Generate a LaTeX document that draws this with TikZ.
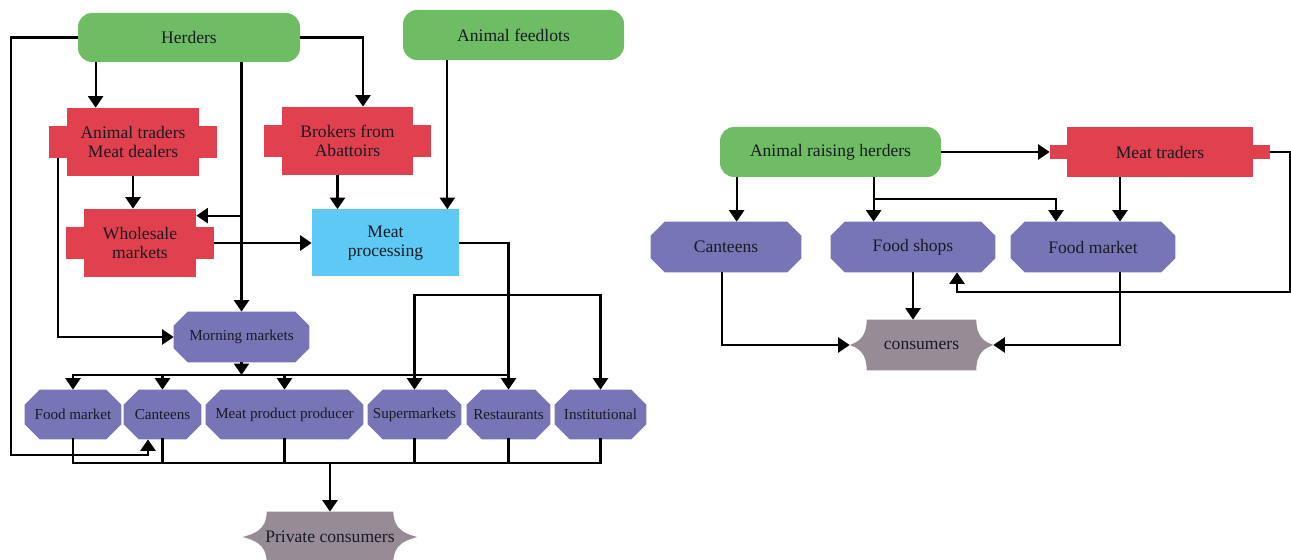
\documentclass[tikz,border=0pt]{standalone}
\usepackage{fontspec}
\setmainfont{Liberation Serif}
\usetikzlibrary{arrows.meta,calc,backgrounds}

\definecolor{herdgreen}{HTML}{6EBD64}
\definecolor{tradered}{HTML}{E1414F}
\definecolor{procblue}{HTML}{5EC9F5}
\definecolor{shoppurple}{HTML}{7875B6}
\definecolor{buyergray}{HTML}{978C95}
\definecolor{inktext}{HTML}{1A1A24}

\tikzset{
  sz/.style 2 args={minimum width=#1*0.02cm, minimum height=#2*0.02cm},
  base/.style={inner sep=0pt, align=center, text=inktext, font=\fontsize{10}{10.5}\selectfont},
  small/.style={font=\fontsize{8.6}{10}\selectfont},
  source/.style={base, fill=herdgreen, rounded corners=8pt},
  trader/.style={base, fill=tradered},
  proc/.style={base, fill=procblue},
  outlet/.style={base},
  buyer/.style={base},
  tip/.tip={Triangle[width=8.5pt,length=6.5pt]},
  link/.style={line width=1.3pt, line cap=rect},
  flow/.style={line width=1.3pt, -tip},
  flowboth/.style={line width=1.3pt, tip-tip},
}

% octagon behind an outlet node: #1 node, #2 corner cut
\newcommand\octagonfill[2]{%
  \fill[shoppurple] ($(#1.north west)+(#2,0)$) -- ($(#1.north east)+(-#2,0)$)
    -- ($(#1.north east)+(0,#2)$) -- ($(#1.south east)+(0,-#2)$)
    -- ($(#1.south east)+(-#2,0)$) -- ($(#1.south west)+(#2,0)$)
    -- ($(#1.south west)+(0,-#2)$) -- ($(#1.north west)+(0,#2)$) -- cycle;}

% side tabs of a trader node: #1 node, #2 tab width, #3 tab half height
\newcommand\tabfill[3]{%
  \fill[tradered] ($(#1.west)+(-#2,-#3)$) rectangle ($(#1.west)+(0.5,#3)$);
  \fill[tradered] ($(#1.east)+(-0.5,-#3)$) rectangle ($(#1.east)+(#2,#3)$);}

% consumer shape with pointed concave sides: #1 node, #2 point depth, #3 half height
\newcommand\cuspfill[3]{%
  \fill[buyergray]
    ($(#1.north west)+(#2,0)$) -- ($(#1.north east)+(-#2,0)$)
    .. controls ($(#1.north east)+(-#2,0.75*#3)$) and ($(#1.east)+(-0.45*#2,-0.12*#3)$) .. (#1.east)
    .. controls ($(#1.east)+(-0.45*#2,0.12*#3)$) and ($(#1.south east)+(-#2,-0.75*#3)$) .. ($(#1.south east)+(-#2,0)$)
    -- ($(#1.south west)+(#2,0)$)
    .. controls ($(#1.south west)+(#2,-0.75*#3)$) and ($(#1.west)+(0.45*#2,0.12*#3)$) .. (#1.west)
    .. controls ($(#1.west)+(0.45*#2,-0.12*#3)$) and ($(#1.north west)+(#2,0.75*#3)$) .. ($(#1.north west)+(#2,0)$)
    -- cycle;}

\begin{document}
\begin{tikzpicture}[x=0.02cm, y=-0.02cm]
\useasboundingbox (0,0) rectangle (1291,560);

% ---------- supply chain, left ----------
\node[source, sz={222}{49}] (herd) at (189,37.5) {Herders};
\node[source, sz={221}{50}] (feed) at (513.5,35) {Animal feedlots};
\node[trader, sz={132}{68}] (atm) at (133,142) {Animal traders\\Meat dealers};
\node[trader, sz={131}{68}] (brk) at (347.5,141) {Brokers from\\Abattoirs};
\node[trader, sz={112}{68}] (whl) at (140,243) {Wholesale\\markets};
\node[proc, sz={147}{67}] (mpr) at (385.5,243) {Meat\\processing};
\node[outlet, small, sz={135}{50}] (mor) at (241.5,337) {Morning markets};
\node[outlet, small, sz={96}{49}] (fm1) at (73,414.5) {Food market};
\node[outlet, small, sz={77}{49}] (can1) at (162.5,414.5) {Canteens};
\node[outlet, small, sz={157}{49}] (mpp) at (284.5,414.5) {Meat product producer};
\node[outlet, small, sz={93}{49}] (sup) at (414.5,414.5) {Supermarkets};
\node[outlet, small, sz={83}{49}] (res) at (508.5,414.5) {Restaurants};
\node[outlet, small, sz={91}{49}] (ins) at (600.5,414.5) {Institutional};
\node[buyer, sz={174}{50}] (pc) at (330,537) {Private consumers};

% ---------- supply chain, right ----------
\node[source, sz={221}{50}] (arh) at (830.5,152) {Animal raising herders};
\node[trader, sz={186}{50}] (mtr) at (1160,152) {Meat traders};
\node[outlet, sz={150}{50}] (can2) at (726,247) {Canteens};
\node[outlet, sz={164}{50}] (fsh) at (913,247) {Food shops};
\node[outlet, sz={164}{50}] (fm2) at (1093,247) {Food market};
\node[buyer, sz={143}{50}] (con) at (921.5,345) {consumers};

% shapes behind the text
\begin{scope}[on background layer]
  \tabfill{atm}{18}{16}
  \tabfill{brk}{18}{16}
  \tabfill{whl}{18}{16}
  \tabfill{mtr}{17}{7}
  \octagonfill{mor}{14}
  \foreach \n in {fm1,can1,mpp,sup,res,ins} {\octagonfill{\n}{15}}
  \foreach \n in {can2,fsh,fm2} {\octagonfill{\n}{14}}
  \cuspfill{pc}{24}{25}
  \cuspfill{con}{17}{25}
\end{scope}

% ---------- connectors, left ----------
\coordinate (whlin) at ($(whl.north east)+(0,7)$);
\coordinate (fin) at ($(mpr.north east)+(-12,0)$);
\coordinate (r295) at (0,295);
\coordinate (r375) at (0,375);
\coordinate (r463) at (0,463);

\draw[flow] (herd.west) -- ++(-67,0) |- ($(can1.south)+(-14.5,16)$) -- ($(can1.south)+(-14.5,0)$);
\draw[flow] ($(herd.south west)+(18,0)$) coordinate (a1) -- (a1 |- atm.north);
\draw[flow] (herd.east) -| ($(brk.north)+(15.5,0)$);
\draw[flow] (herd.south -| mor.north) -- (mor.north);
\draw[flow] (mor.north |- whlin) -- (whlin);
\draw[flow] (atm.south) -- (atm.south |- whl.north);
\draw[flow] ($(atm.west)+(-9,16)$) |- (mor.west);
\draw[flow] ($(whl.east)+(18,0)$) -- (mpr.west);
\draw[flow] ($(brk.south)+(-10,0)$) coordinate (b1) -- (b1 |- mpr.north);
\draw[flow] (fin |- feed.south) -- (fin);
\draw[flow] (mpr.east) -| (res.north);
\draw[flowboth] (sup.north) |- (ins.north |- r295) -- (ins.north);
\draw[flow] (mor.south) -- (mor.south |- r375);
\draw[link] (fm1.north |- r375) -- (res.north |- r375);
\foreach \n in {fm1,can1,mpp} {\draw[flow] (\n.north |- r375) -- (\n.north);}
\draw[link] (fm1.south) -- (fm1.south |- r463) -- (ins.south |- r463) -- (ins.south);
\foreach \n in {can1,mpp,sup,res} {\draw[link] (\n.south) -- (\n.south |- r463);}
\draw[flow] (pc.north |- r463) -- (pc.north);

% ---------- connectors, right ----------
\coordinate (redge) at (1290,0);
\coordinate (r199) at (0,199);
\coordinate (r292) at (0,292);

\draw[flow] (arh.east) -- ($(mtr.west)+(-17,0)$);
\draw[flow] ($(arh.south west)+(17,0)$) coordinate (c1) -- (c1 |- can2.north);
\draw[flow] ($(arh.south west)+(154,0)$) coordinate (c2) -- (c2 |- fsh.north);
\draw[flow] (c2 |- r199) -| ($(fm2.north)+(-37,0)$);
\draw[flow] ($(mtr.south)+(-40,0)$) coordinate (c3) -- (c3 |- fm2.north);
\draw[flow] ($(mtr.east)+(17,0)$) -- (mtr.east -| redge) -- (redge |- r292) -| ($(fsh.south)+(44,0)$);
\draw[flow] ($(can2.south)+(-4,0)$) |- (con.west);
\draw[flow] (fsh.south) -- (fsh.south |- con.north);
\draw[flow] ($(fm2.south)+(27,0)$) |- (con.east);
\end{tikzpicture}
\end{document}
